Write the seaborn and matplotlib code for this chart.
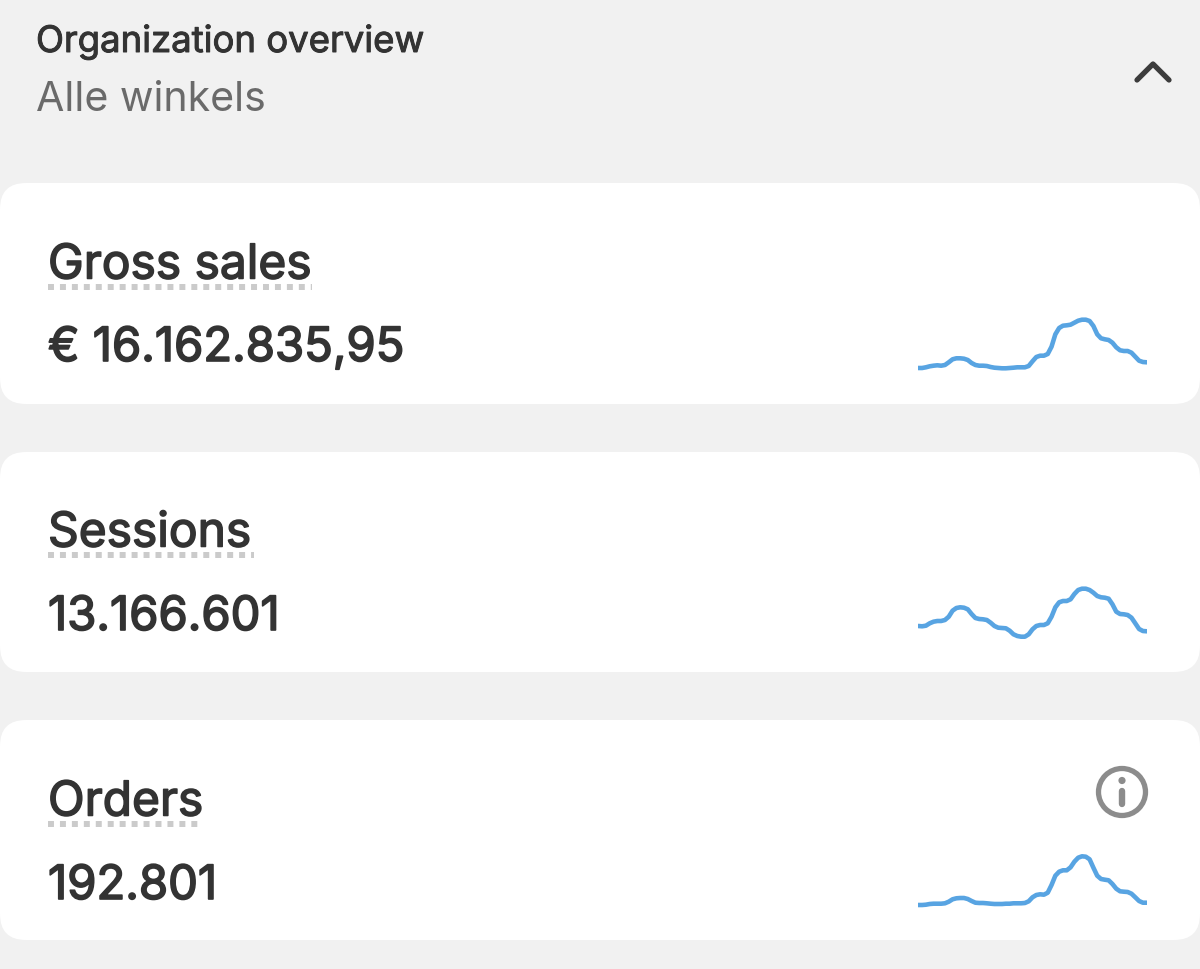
import seaborn as sns
import matplotlib.pyplot as plt
import matplotlib.patheffects as pe
from matplotlib.patches import FancyBboxPatch, Circle
import numpy as np
import pandas as pd

header_title = "Organization overview"
header_sub = "Alle winkels"

card_names = ["Gross sales", "Sessions", "Orders"]
card_values = ["€ 16.162.835,95", "13.166.601", "192.801"]

# sparkline heights (no axis in the original, so relative units)
gross_sales = [4, 4, 4.7, 5.7, 6.3, 6.7, 6.3, 7, 9.7, 12.7, 13.7, 13.7, 13.3, 12, 9, 7, 6.3, 6.3, 6, 5,
               4.3, 4, 3.7, 3.7, 4, 4.3, 4.7, 4.7, 4.7, 6, 10.7, 15, 16.3, 16.3, 18, 25.3, 37.7, 44, 46.3, 46.7,
               47.3, 49.3, 51.3, 52.3, 52.3, 51, 46, 37.7, 33.7, 32.7, 32, 29.3, 24.7, 21.7, 21, 21, 19.3, 15.3, 11.3, 10, 9.7]
sessions = [16, 15.7, 16.3, 18.7, 20.3, 21, 21, 22, 25.3, 31.3, 34, 34.7, 34.3, 32.7, 28, 24, 23, 22.7, 22, 19.3,
            16, 14.3, 14, 13.7, 11.3, 7.7, 6, 5.3, 5.3, 7.7, 12.7, 16, 17, 17, 18.7, 25.3, 34.7, 39.7, 41, 41,
            42.7, 48, 52, 53.3, 53.3, 52, 49.3, 46, 44.7, 44.3, 43.3, 37.7, 30.3, 28, 27.7, 27, 24.3, 18.7, 13, 11, 10.7]
orders = [7, 7, 7.3, 8, 8.3, 8.3, 8.3, 8.7, 10.3, 12.7, 13.7, 14, 14, 13, 11, 9.3, 9, 9, 8.7, 8.3,
          8, 8, 8, 8.3, 8.3, 8.7, 8.7, 8.7, 9, 10.7, 14.7, 17, 17.7, 17.3, 19.3, 27, 36.3, 40.3, 41.7, 41.7,
          44.7, 50.3, 54.3, 55.7, 55.3, 52.7, 44.3, 36.3, 33, 32.3, 31.7, 28, 23.3, 20.7, 20.3, 20, 18.3, 14.7, 11, 9.3, 9.3]
series = [gross_sales, sessions, orders]

W, H = 1200, 970
BG = "#f1f1f1"
DARK = "#333333"
BLUE = "#58a4e2"
FONT = "Inter"

sns.set_theme(style="white")
plt.rcParams["font.family"] = [FONT, "DejaVu Sans"]

fig = plt.figure(figsize=(W / 100, H / 100), dpi=100, facecolor=BG)
ax = fig.add_axes([0, 0, 1, 1])
ax.set_xlim(0, W)
ax.set_ylim(H, 0)
ax.axis("off")


def heavy(width):
    return [pe.withStroke(linewidth=width, foreground=DARK)]


ax.text(36, 43, header_title, fontsize=26.3, color=DARK, va="center", ha="left",
        path_effects=heavy(0.7))
ax.text(36, 100, header_sub, fontsize=29.6, color="#6a6a6a", va="center", ha="left")

# collapse chevron
ax.plot([1137, 1153, 1169], [81, 65, 81], color="#3c3c3c", lw=3.8,
        solid_capstyle="round", solid_joinstyle="round")

card_tops = [184, 453, 721]
card_bottoms = [405, 673, 941]
name_y = [266.5, 534.5, 803.5]
value_y = [350, 619, 888]
line_y = [288, 556, 825]
line_end = [312, 254, 203]
spark_base = [373, 643, 913]

for i, name in enumerate(card_names):
    r = 26
    ax.add_patch(FancyBboxPatch((r - 0, card_tops[i] + r), W - 2 * r, card_bottoms[i] - card_tops[i] - 2 * r,
                                boxstyle=f"round,pad={r},rounding_size={r}",
                                fc="white", ec="none", zorder=1))
    ax.text(48, name_y[i], name, fontsize=34.5, color=DARK, va="center", ha="left",
            path_effects=heavy(1.1), zorder=3)
    ax.text(48, value_y[i], card_values[i], fontsize=34, color=DARK, va="center", ha="left",
            path_effects=heavy(1.2), zorder=3)
    ax.plot([48, line_end[i]], [line_y[i], line_y[i]], color="#cbcbcb", lw=4.3,
            dashes=(1.0, 1.0), dash_capstyle="butt", zorder=2)

    df = pd.DataFrame({"t": np.arange(len(series[i])), "v": series[i]})
    spark = fig.add_axes([918.3 / W, 1 - spark_base[i] / H, 228.4 / W, 70 / H])
    spark.patch.set_alpha(0)
    sns.lineplot(data=df, x="t", y="v", ax=spark, color=BLUE, lw=3.3, legend=False,
                 solid_capstyle="round", solid_joinstyle="round")
    spark.set_xlim(0, len(series[i]) - 1)
    spark.set_ylim(0, 70)
    spark.axis("off")

# info icon on the orders card
ax.add_patch(Circle((1122, 793), 23.5, fc="none", ec="#8c8c8c", lw=3.8, zorder=3))
ax.add_patch(Circle((1122, 781.5), 3.6, fc="#8c8c8c", ec="none", zorder=3))
ax.plot([1122, 1122], [792, 805], color="#8c8c8c", lw=4.6, solid_capstyle="round", zorder=3)

fig.savefig("out.png", dpi=100, facecolor=BG)
plt.close(fig)
